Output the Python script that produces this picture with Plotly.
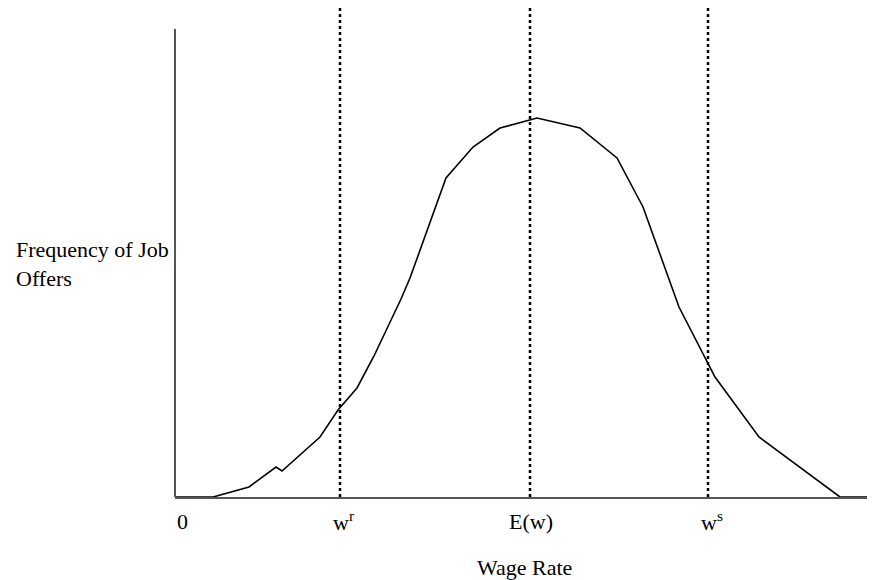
import plotly.graph_objects as go

# Wage offer distribution (x: wage units, y: frequency units)
wage = [0, 38, 74, 101, 107, 145, 163, 182, 199, 226, 235, 271, 298, 325, 362,
        405, 442, 468, 504, 535, 540, 584, 665, 700]
freq = [0, 0, 10, 30, 26, 60, 87, 109, 141, 198, 219, 319, 350, 369, 379,
        369, 339, 290, 190, 130, 120, 60, 0, 0]

# Reference wage levels (vertical dotted lines)
ref_names = ["w<sup>r</sup>", "E(w)", "w<sup>s</sup>"]
ref_wages = [165, 355, 533]
line_top = 489

tick_text = ["0"] + ref_names
tick_pos = [7, 168, 356, 537]

X_MAX = 700
Y_MAX = 489
Y_AXIS_TOP = 468

FONT = "Liberation Serif"
FS = 22

fig = go.Figure()

for xw in ref_wages:
    fig.add_trace(go.Scatter(
        x=[xw, xw], y=[0, line_top], mode="lines",
        line=dict(color="black", width=2.5, dash="dot"),
        hoverinfo="skip", showlegend=False))

fig.add_trace(go.Scatter(
    x=wage, y=freq, mode="lines",
    line=dict(color="black", width=1.6),
    showlegend=False))

# y axis line (shorter than plot area)
fig.add_shape(type="line", xref="x domain", yref="y",
              x0=0, x1=0, y0=0, y1=Y_AXIS_TOP,
              line=dict(color="#555555", width=2))

for t, p in zip(tick_text, tick_pos):
    fig.add_annotation(x=p, y=0, xref="x", yref="y", text=t,
                       showarrow=False, yshift=-24, yanchor="middle",
                       xanchor="center",
                       font=dict(family=FONT, size=FS, color="black"))

fig.add_annotation(x=(524 - 175) / 700, y=0, xref="paper", yref="paper",
                   text="Wage Rate", showarrow=False, yshift=-70,
                   yanchor="middle", xanchor="center",
                   font=dict(family=FONT, size=FS, color="black"))

fig.add_annotation(x=(14 - 175) / 700, y=233, xref="paper", yref="y",
                   text="Frequency of Job<br>Offers", showarrow=False,
                   xanchor="left", yanchor="middle", align="left",
                   font=dict(family=FONT, size=FS, color="black"))

# page body has an 8px margin: figure sized so it ends at the window edge
fig.update_layout(
    width=867, height=572,
    margin=dict(l=167, r=0, t=0, b=83),
    plot_bgcolor="white", paper_bgcolor="white",
    xaxis=dict(range=[0, X_MAX], showgrid=False, zeroline=False,
               showticklabels=False, ticks="", showline=True,
               linecolor="#555555", linewidth=2, fixedrange=True),
    yaxis=dict(range=[0, Y_MAX], showgrid=False, zeroline=False,
               showticklabels=False, ticks="", showline=False,
               fixedrange=True),
    font=dict(family=FONT, size=FS, color="black"),
)

fig.write_html("out.html")
